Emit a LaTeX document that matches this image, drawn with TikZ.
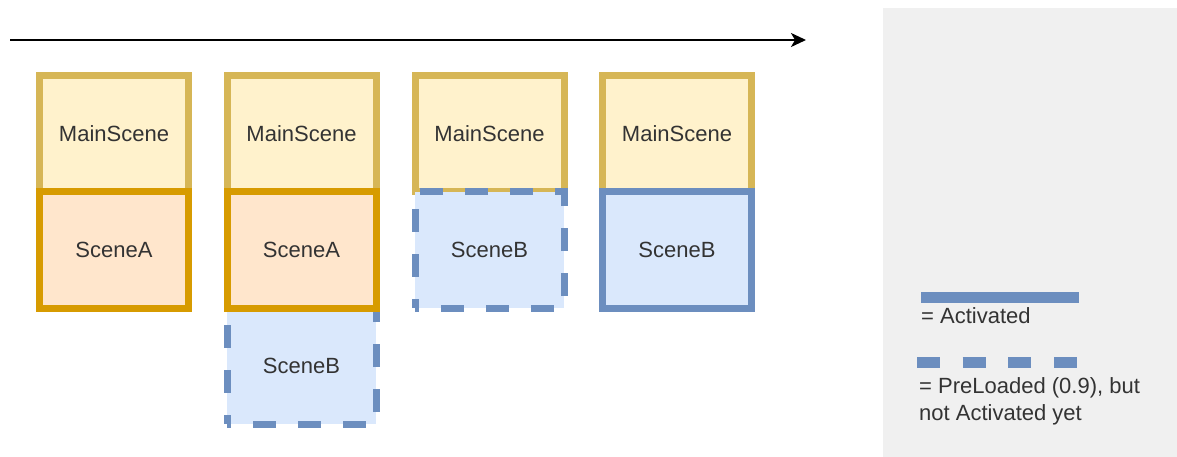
\documentclass[tikz,border=0pt]{standalone}
\usepackage{fontspec}
\setmainfont{Liberation Sans}
\usetikzlibrary{arrows.meta}
\definecolor{mainfill}{HTML}{FFF2CC}
\definecolor{maindraw}{HTML}{D6B656}
\definecolor{afill}{HTML}{FFE6CC}
\definecolor{adraw}{HTML}{D79B00}
\definecolor{bfill}{HTML}{DAE8FC}
\definecolor{bdraw}{HTML}{6C8EBF}
\definecolor{txt}{HTML}{333333}
\definecolor{panel}{HTML}{F0F0F0}
\tikzset{
  box/.style={rectangle, minimum width=149pt, minimum height=116pt, inner sep=0pt,
    line width=7pt, text=txt, font=\fontsize{22}{26}\selectfont},
  mainbox/.style={box, fill=mainfill, draw=maindraw},
  abox/.style={box, fill=afill, draw=adraw},
  bactive/.style={box, fill=bfill, draw=bdraw},
  bpre/.style={box, fill=bfill, draw=bdraw, dash pattern=on 23pt off 22pt, dash phase=19pt},
  legtext/.style={inner sep=0pt, text=txt, font=\fontsize{22}{27}\selectfont, align=left},
}
\begin{document}
\begin{tikzpicture}[x=1pt,y=-1pt]
\useasboundingbox (0,0) rectangle (1177,457);
% legend panel
\fill[panel] (883,8) rectangle (1177,457);
% timeline arrow
\coordinate (tstart) at (10,40);
\coordinate (tend) at (806,40);
\draw[line width=1.8pt, -{Stealth[length=15pt,width=14pt,inset=4pt]}] (tstart) -- (tend);
% column 1
\node[mainbox] (m1) at (114,134) {MainScene};
\node[abox] (a1) at (114,250) {SceneA};
% column 2
\node[mainbox] (m2) at (301.5,134) {MainScene};
\node[bpre] (b2) at (301.5,366) {SceneB};
\node[abox] (a2) at (301.5,250) {SceneA};
% column 3
\node[mainbox] (m3) at (489.5,134) {MainScene};
\node[bpre] (b3) at (489.5,250) {SceneB};
% column 4
\node[mainbox] (m4) at (677,134) {MainScene};
\node[bactive] (b4) at (677,250) {SceneB};
% legend
\coordinate (l1s) at (921,297);
\coordinate (l1e) at (1079,297);
\draw[bdraw, line width=11pt] (l1s) -- (l1e);
\node[legtext, anchor=base west] (lt1) at (921,323) {= Activated};
\coordinate (l2s) at (917,362);
\coordinate (l2e) at (1077,362);
\draw[bdraw, line width=11pt, dash pattern=on 23pt off 22.7pt] (l2s) -- (l2e);
\node[legtext, anchor=north west] (lt2) at (919,377) {= PreLoaded (0.9), but\\not Activated yet};
\end{tikzpicture}
\end{document}
